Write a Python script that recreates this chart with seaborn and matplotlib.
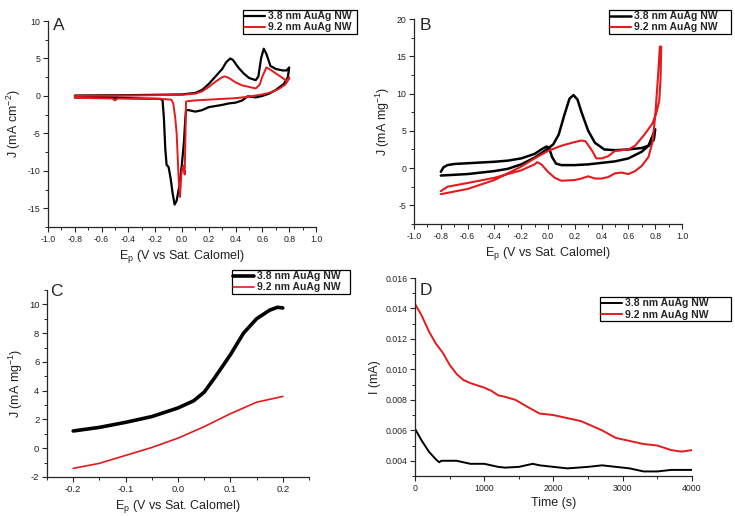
import numpy as np
import pandas as pd
import matplotlib
matplotlib.use("Agg")
import matplotlib.pyplot as plt
from matplotlib.ticker import MultipleLocator, FormatStrFormatter
import seaborn as sns

label_38 = "3.8 nm AuAg NW"
label_92 = "9.2 nm AuAg NW"

# Panel A: cyclic voltammogram, current density (mA cm^-2)
a_black_x = [-0.8, -0.4, -0.2, 0.0, 0.1, 0.15, 0.2, 0.25, 0.3, 0.33, 0.36, 0.38, 0.42, 0.46, 0.5,
             0.55, 0.57, 0.59, 0.61, 0.63, 0.66, 0.7, 0.75, 0.78, 0.8,
             0.79, 0.76, 0.7, 0.65, 0.6, 0.55, 0.49, 0.45, 0.4, 0.35, 0.3, 0.2, 0.15, 0.1, 0.05,
             0.03, 0.025, 0.015, 0.0, -0.02, -0.04, -0.055, -0.07, -0.085, -0.1, -0.115, -0.125,
             -0.135, -0.145, -0.16, -0.3, -0.5, -0.8]
a_black_y = [0.05, 0.1, 0.15, 0.2, 0.4, 0.8, 1.6, 2.6, 3.6, 4.5, 5.0, 4.8, 3.8, 3.0, 2.4,
             2.1, 2.6, 5.0, 6.3, 5.6, 4.0, 3.6, 3.4, 3.4, 3.8,
             2.5, 1.6, 0.8, 0.3, 0.0, -0.2, -0.05, -0.6, -0.9, -1.0, -1.2, -1.5, -1.9, -2.1, -1.9,
             -1.9, -3.0, -6.0, -9.0, -12.0, -14.0, -14.5, -13.0, -11.0, -9.5, -9.2, -7.0,
             -3.0, -0.6, -0.4, -0.35, -0.25, -0.2]
a_red_x = [-0.8, -0.4, 0.0, 0.1, 0.15, 0.2, 0.25, 0.3, 0.32, 0.35, 0.4, 0.45, 0.5, 0.55, 0.58,
           0.6, 0.63, 0.66, 0.7, 0.75, 0.78, 0.8,
           0.8, 0.77, 0.72, 0.65, 0.6, 0.5, 0.4, 0.3, 0.2, 0.1, 0.04, 0.03, 0.025, 0.02, 0.012,
           0.005, -0.005, -0.015, -0.025, -0.04, -0.05, -0.065, -0.08, -0.15, -0.48, -0.5, -0.52,
           -0.8]
a_red_y = [0.0, 0.05, 0.15, 0.3, 0.6, 1.2, 1.9, 2.5, 2.6, 2.4, 1.8, 1.4, 1.2, 1.0, 1.5,
           2.6, 3.8, 3.5, 3.0, 2.4, 2.0, 2.5,
           2.3, 1.5, 0.9, 0.4, 0.2, -0.1, -0.3, -0.4, -0.5, -0.6, -0.7, -0.8, -6.0, -10.5, -9.3,
           -9.5, -10.5, -13.5, -11.0, -5.0, -3.0, -1.0, -0.5, -0.4, -0.35, -0.6, -0.35,
           -0.25]

# Panel B: cyclic voltammogram, mass activity (mA mg^-1)
b_black_x = [-0.8, -0.78, -0.75, -0.7, -0.6, -0.4, -0.3, -0.2, -0.1, -0.05, -0.01, 0.01, 0.03,
             0.06, 0.1, 0.2, 0.3, 0.4, 0.5, 0.6, 0.7, 0.75, 0.8,
             0.79, 0.75, 0.7, 0.6, 0.5, 0.42, 0.35, 0.3, 0.25, 0.22, 0.19, 0.16, 0.12, 0.08,
             0.04, 0.0, -0.05, -0.1, -0.2, -0.3, -0.4, -0.6, -0.8]
b_black_y = [-0.5, 0.1, 0.4, 0.55, 0.65, 0.85, 1.0, 1.3, 1.9, 2.5, 2.9, 2.6, 1.5,
             0.6, 0.4, 0.4, 0.5, 0.7, 0.9, 1.3, 2.2, 3.0, 5.2,
             3.8, 3.0, 2.7, 2.5, 2.4, 2.5, 3.4, 5.0, 7.5, 9.2, 9.8, 9.3, 7.0, 4.5,
             3.2, 2.6, 2.0, 1.4, 0.5, -0.1, -0.4, -0.8, -1.0]
b_red_x = [-0.8, -0.75, -0.6, -0.4, -0.2, -0.1, -0.08, -0.05, 0.0, 0.05, 0.1, 0.2, 0.25, 0.3,
           0.35, 0.4, 0.45, 0.5, 0.55, 0.6, 0.65, 0.7, 0.75, 0.78, 0.8, 0.82, 0.835, 0.845,
           0.84, 0.83, 0.81, 0.78, 0.72, 0.65, 0.6, 0.55, 0.5, 0.45, 0.4, 0.36, 0.33, 0.28,
           0.25, 0.2, 0.1, 0.0, -0.1, -0.2, -0.4, -0.6, -0.8]
b_red_y = [-3.1, -2.5, -2.0, -1.3, -0.3, 0.5, 0.8, 0.5, -0.5, -1.3, -1.7, -1.6, -1.4, -1.1,
           -1.4, -1.4, -1.2, -0.7, -0.6, -0.8, -0.4, 0.3, 1.5, 3.5, 7.0, 12.0, 16.3, 16.3,
           12.0, 9.0, 7.5, 6.0, 4.5, 3.0, 2.5, 2.4, 2.3, 1.6, 1.3, 1.3, 2.3, 3.6,
           3.7, 3.5, 3.0, 2.3, 1.3, 0.2, -1.6, -2.8, -3.5]

# Panel C: linear sweep
c_black_x = [-0.2, -0.15, -0.1, -0.05, 0.0, 0.03, 0.05, 0.07, 0.1, 0.125, 0.15, 0.175, 0.19, 0.2]
c_black_y = [1.2, 1.45, 1.8, 2.2, 2.8, 3.3, 3.9, 4.9, 6.5, 8.0, 9.0, 9.6, 9.8, 9.75]
c_red_x = [-0.2, -0.15, -0.1, -0.05, 0.0, 0.05, 0.1, 0.15, 0.2]
c_red_y = [-1.4, -1.05, -0.5, 0.05, 0.7, 1.5, 2.4, 3.2, 3.6]

# Panel D: chronoamperometry
d_black_t = [0, 100, 200, 300, 350, 380, 500, 600, 800, 1000, 1200, 1300, 1500, 1700, 1800,
             2000, 2200, 2500, 2700, 2900, 3100, 3300, 3500, 3700, 4000]
d_black_i = [0.0061, 0.0053, 0.0046, 0.0041, 0.0039, 0.0040, 0.0040, 0.0040, 0.0038, 0.0038,
             0.0036, 0.00355, 0.0036, 0.0038, 0.0037, 0.0036, 0.0035, 0.0036, 0.0037, 0.0036,
             0.0035, 0.0033, 0.0033, 0.0034, 0.0034]
d_red_t = [0, 100, 200, 300, 400, 500, 600, 700, 800, 1000, 1100, 1200, 1300, 1450, 1600,
           1800, 2000, 2200, 2400, 2550, 2700, 2900, 3100, 3300, 3500, 3700, 3850, 4000]
d_red_i = [0.0143, 0.0135, 0.0125, 0.0117, 0.0111, 0.0103, 0.0097, 0.0093, 0.0091, 0.0088,
           0.0086, 0.0083, 0.0082, 0.0080, 0.0076, 0.0071, 0.0070, 0.0068, 0.0066, 0.0063,
           0.0060, 0.0055, 0.0053, 0.0051, 0.0050, 0.0047, 0.0046, 0.0047]

sns.set_style("ticks")
plt.rcParams['font.family'] = ['Liberation Sans', 'DejaVu Sans']
plt.rcParams['xtick.direction'] = 'out'
plt.rcParams['ytick.direction'] = 'out'
plt.rcParams['axes.unicode_minus'] = False
plt.rcParams['mathtext.default'] = 'regular'

fig = plt.figure(figsize=(7.35, 5.16), dpi=100)
W, H = 735.0, 516.0


def add_axes(x0, y0, x1, y1):
    return fig.add_axes([x0 / W, 1 - y1 / H, (x1 - x0) / W, (y1 - y0) / H])


def style(ax, letter, lx, ly, xlabel, ylabel, tsize=6.3):
    sns.despine(ax=ax)
    ax.tick_params(axis='both', which='major', labelsize=tsize, length=3.5, width=0.8, pad=2,
                   labelcolor='#222222')
    ax.tick_params(axis='both', which='minor', length=2, width=0.7)
    for s in ['left', 'bottom']:
        ax.spines[s].set_linewidth(0.9)
    ax.set_xlabel(xlabel, fontsize=9, labelpad=3, color='#222222')
    ax.set_ylabel(ylabel, fontsize=9, labelpad=3, color='#222222')
    ax.text(lx, ly, letter, transform=ax.transAxes, fontsize=12.5, va='top', ha='left')


def legend(ax, x0, y0, x1, y1):
    ax.legend(loc='upper left', bbox_to_anchor=(x0 / W, 1 - y1 / H, (x1 - x0) / W, (y1 - y0) / H),
              bbox_transform=fig.transFigure, mode='expand', frameon=True, fancybox=False,
              edgecolor='black', framealpha=1, borderpad=0.12, labelspacing=0.12,
              handlelength=2.0, handletextpad=0.25, borderaxespad=0,
              prop={'weight': 'bold', 'size': 7.5})
    ax.get_legend().get_frame().set_linewidth(0.9)


# ---- A
axA = add_axes(48, 21, 316, 227)
sns.lineplot(x=a_black_x, y=a_black_y, sort=False, estimator=None, color='black', lw=1.6,
             ax=axA, label=label_38)
sns.lineplot(x=a_red_x, y=a_red_y, sort=False, estimator=None, color='#e41a1c', lw=1.4,
             ax=axA, label=label_92)
axA.set_xlim(-1.0, 1.0)
axA.set_ylim(-17.5, 10)
axA.xaxis.set_major_locator(MultipleLocator(0.2))
axA.xaxis.set_minor_locator(MultipleLocator(0.1))
axA.xaxis.set_major_formatter(FormatStrFormatter('%.1f'))
axA.yaxis.set_major_locator(MultipleLocator(5))
axA.yaxis.set_minor_locator(MultipleLocator(2.5))
style(axA, 'A', 0.018, 1.015, r'E$_p$ (V vs Sat. Calomel)', r'J (mA cm$^{-2}$)')
legend(axA, 243, 10, 357, 36)

# ---- B
axB = add_axes(414, 19, 682, 224)
sns.lineplot(x=b_black_x, y=b_black_y, sort=False, estimator=None, color='black', lw=1.8,
             ax=axB, label=label_38)
sns.lineplot(x=b_red_x, y=b_red_y, sort=False, estimator=None, color='#e41a1c', lw=1.5,
             ax=axB, label=label_92)
axB.set_xlim(-1.0, 1.0)
axB.set_ylim(-7.5, 20)
axB.xaxis.set_major_locator(MultipleLocator(0.2))
axB.xaxis.set_minor_locator(MultipleLocator(0.1))
axB.xaxis.set_major_formatter(FormatStrFormatter('%.1f'))
axB.yaxis.set_major_locator(MultipleLocator(5))
axB.yaxis.set_minor_locator(MultipleLocator(2.5))
style(axB, 'B', 0.022, 1.005, r'E$_p$ (V vs Sat. Calomel)', r'J (mA mg$^{-1}$)')
legend(axB, 609, 10, 731, 36)

# ---- C
axC = add_axes(47, 290, 309, 477)
sns.lineplot(x=c_black_x, y=c_black_y, sort=False, estimator=None, color='black', lw=2.6,
             ax=axC, label=label_38)
sns.lineplot(x=c_red_x, y=c_red_y, sort=False, estimator=None, color='#e41a1c', lw=1.2,
             ax=axC, label=label_92)
axC.set_xlim(-0.25, 0.25)
axC.set_ylim(-2, 11)
axC.xaxis.set_major_locator(MultipleLocator(0.1))
axC.xaxis.set_minor_locator(MultipleLocator(0.05))
axC.xaxis.set_major_formatter(FormatStrFormatter('%.1f'))
axC.yaxis.set_major_locator(MultipleLocator(2))
axC.yaxis.set_minor_locator(MultipleLocator(1))
style(axC, 'C', 0.012, 1.03, r'E$_p$ (V vs Sat. Calomel)', r'J (mA mg$^{-1}$)', tsize=6.8)
legend(axC, 232, 270, 350, 293)

# ---- D
axD = add_axes(415, 278, 692, 476)
sns.lineplot(x=d_black_t, y=d_black_i, sort=False, estimator=None, color='black', lw=1.4,
             ax=axD, label=label_38)
sns.lineplot(x=d_red_t, y=d_red_i, sort=False, estimator=None, color='#e41a1c', lw=1.4,
             ax=axD, label=label_92)
axD.set_xlim(0, 4000)
axD.set_ylim(0.003, 0.016)
axD.xaxis.set_major_locator(MultipleLocator(1000))
axD.xaxis.set_minor_locator(MultipleLocator(500))
axD.yaxis.set_major_locator(MultipleLocator(0.002))
axD.yaxis.set_minor_locator(MultipleLocator(0.001))
axD.yaxis.set_major_formatter(FormatStrFormatter('%.3f'))
style(axD, 'D', 0.018, 0.975, 'Time (s)', 'I (mA)')
legend(axD, 600, 297, 731, 322)

fig.savefig('out.png', dpi=100)
